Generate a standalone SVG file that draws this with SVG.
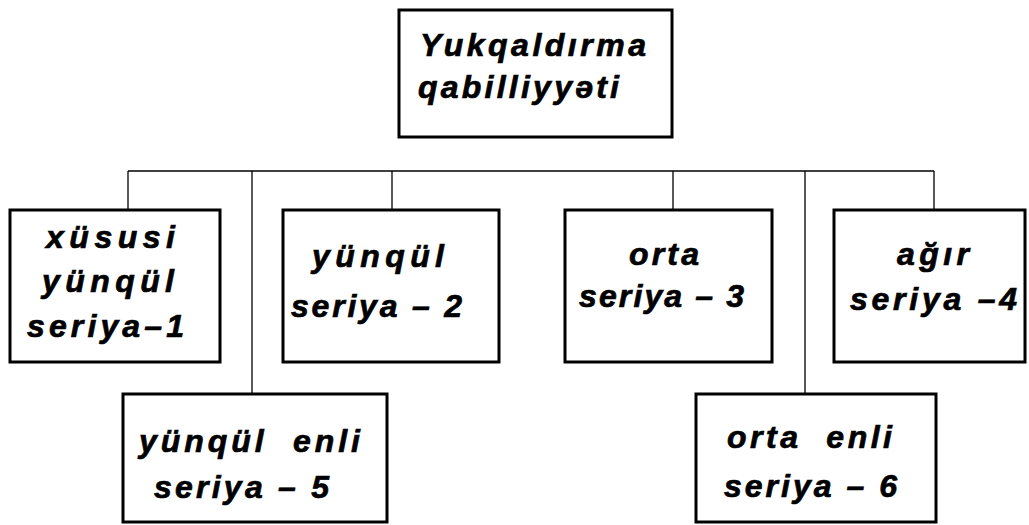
<svg xmlns="http://www.w3.org/2000/svg" width="1029" height="525" viewBox="0 0 1029 525">
<style>
.box{fill:#fff;stroke:#000;stroke-width:3}
.conn{stroke:#000;stroke-width:1.3;fill:none}
.t{font-family:"Liberation Sans",Arial,sans-serif;font-weight:bold;font-style:italic;font-size:32px;fill:#000;stroke:#000;stroke-width:0.7px}
</style>
<rect width="1029" height="525" fill="#fff"/>
<g id="connectors">
<path class="conn" d="M128,171H934M128,171V210M252,171V394M392,171V210M673,171V210M805,171V394M934,171V210"/>
</g>
<g id="root">
<rect class="box" x="399" y="10" width="273" height="127"/>
<text class="t" x="420" y="56" textLength="226" lengthAdjust="spacing">Yukqaldırma</text>
<text class="t" x="418" y="98" textLength="201" lengthAdjust="spacing">qabilliyyəti</text>
</g>
<g id="n1">
<rect class="box" x="10" y="210" width="210" height="152"/>
<text class="t" x="46" y="248" textLength="129" lengthAdjust="spacing">xüsusi</text>
<text class="t" x="42" y="292" textLength="132" lengthAdjust="spacing">yünqül</text>
<text class="t" x="27" y="337" textLength="157" lengthAdjust="spacing">seriya–1</text>
</g>
<g id="n2">
<rect class="box" x="283" y="210" width="216" height="152"/>
<text class="t" x="312" y="267" textLength="132" lengthAdjust="spacing">yünqül</text>
<text class="t" x="291" y="317" textLength="171" lengthAdjust="spacing" xml:space="preserve">seriya – 2</text>
</g>
<g id="n3">
<rect class="box" x="565" y="210" width="207" height="152"/>
<text class="t" x="629" y="265" textLength="70" lengthAdjust="spacing">orta</text>
<text class="t" x="579" y="307" textLength="165" lengthAdjust="spacing" xml:space="preserve">seriya – 3</text>
</g>
<g id="n4">
<rect class="box" x="834" y="210" width="191" height="152"/>
<text class="t" x="897" y="265" textLength="72" lengthAdjust="spacing">ağır</text>
<text class="t" x="850" y="310" textLength="167" lengthAdjust="spacing" xml:space="preserve">seriya –4</text>
</g>
<g id="n5">
<rect class="box" x="123" y="394" width="264" height="128"/>
<text class="t" x="139" y="452" textLength="221" lengthAdjust="spacing" xml:space="preserve">yünqül  enli</text>
<text class="t" x="154" y="498" textLength="175" lengthAdjust="spacing" xml:space="preserve">seriya – 5</text>
</g>
<g id="n6">
<rect class="box" x="696" y="394" width="240" height="128"/>
<text class="t" x="727" y="448" textLength="165" lengthAdjust="spacing" xml:space="preserve">orta  enli</text>
<text class="t" x="724" y="497" textLength="173" lengthAdjust="spacing" xml:space="preserve">seriya – 6</text>
</g>
</svg>
